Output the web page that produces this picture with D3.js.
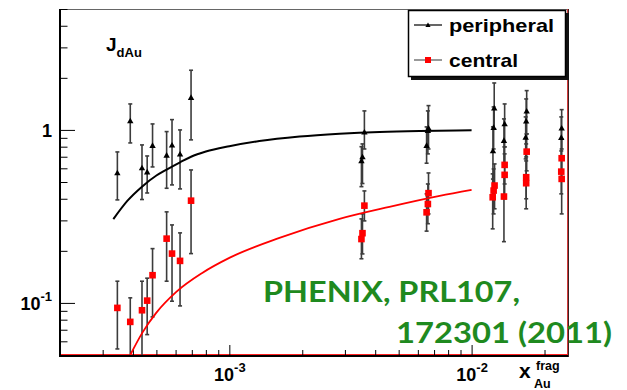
<!DOCTYPE html>
<html>
<head>
<meta charset="utf-8">
<script src="https://cdn.jsdelivr.net/npm/d3@7"></script>
<style>
  html, body { margin: 0; padding: 0; background: #fff; }
  svg { display: block; }
  text { font-family: "Liberation Sans", Arial, Helvetica, sans-serif; font-weight: bold; }
  text.cite { font-family: Lato, "Open Sans", sans-serif; font-weight: 700; }
</style>
</head>
<body>
<svg id="chart" width="627" height="390"></svg>
<script>
// ---- peripheral collisions: x_Au^frag, J_dAu and error-bar ends ----
const periX  = [3.45e-4, 3.90e-4, 4.36e-4, 4.58e-4, 4.82e-4, 5.51e-4, 5.80e-4, 6.26e-4, 6.95e-4,
                3.61e-3, 3.545e-3, 3.51e-3,
                6.64e-3, 6.60e-3, 6.52e-3,
                1.240e-2, 1.233e-2, 1.225e-2,
                1.369e-2, 1.360e-2,
                1.688e-2, 1.680e-2, 1.672e-2,
                2.354e-2, 2.345e-2];
const periY  = [0.564, 1.127, 0.603, 0.570, 0.811, 0.714, 0.816, 0.724, 1.537,
                0.970, 0.698, 0.662,
                1.023, 0.991, 0.811,
                1.335, 1.031, 0.756,
                1.083, 0.867,
                1.283, 1.123, 0.907,
                1.023, 0.903];
const periHi = [0.746, 1.413, 0.819, 0.707, 1.083, 0.978, 1.147, 1.000, 2.213,
                1.288, 0.830, 0.800,
                1.382, 1.288, 1.041,
                1.868, 1.358, 1.041,
                1.413, 1.158,
                1.687, 1.510, 1.189,
                1.310, 1.189];
const periLo = [0.394, 0.841, 0.396, 0.432, 0.611, 0.460, 0.481, 0.456, 0.876,
                0.776, 0.490, 0.470,
                0.776, 0.727, 0.642,
                1.013, 0.776, 0.520,
                0.798, 0.636,
                0.948, 0.830, 0.680,
                0.776, 0.680];

// ---- central collisions ----
const centX  = [3.45e-4, 3.90e-4, 4.36e-4, 4.58e-4, 4.82e-4, 5.51e-4, 5.80e-4, 6.26e-4, 6.95e-4,
                3.61e-3, 3.545e-3, 3.51e-3,
                6.64e-3, 6.60e-3, 6.52e-3,
                1.244e-2, 1.233e-2, 1.222e-2,
                1.369e-2, 1.369e-2, 1.360e-2,
                1.688e-2, 1.680e-2, 1.680e-2,
                2.354e-2, 2.345e-2, 2.354e-2];
const centY  = [0.0936, 0.0777, 0.0907, 0.1031, 0.1446, 0.2353, 0.1928, 0.175, 0.390,
                0.365, 0.253, 0.234,
                0.431, 0.373, 0.334,
                0.477, 0.446, 0.408,
                0.628, 0.550, 0.412,
                0.749, 0.533, 0.492,
                0.686, 0.574, 0.521];
const centHi = [0.1335, 0.107, 0.1335, 0.139, 0.206, 0.336, 0.2824, 0.254, 0.587,
                0.444, 0.327, 0.306,
                0.564, 0.487, 0.427,
                0.636, 0.595, 0.557,
                0.798, 0.727, 0.557,
                0.948, 0.698, 0.662,
                0.887, 0.756, 0.680];
const centLo = [0.0542, 0.045, 0.040, 0.0656, 0.083, 0.1335, 0.1023, 0.0961, 0.1928,
                0.298, 0.192, 0.180,
                0.327, 0.287, 0.260,
                0.350, 0.327, 0.268,
                0.487, 0.400, 0.226,
                0.580, 0.400, 0.350,
                0.520, 0.427, 0.327];

// ---- model curves ----
const fitPeriX = [3.32e-4, 3.8e-4, 4.36e-4, 5.0e-4, 5.51e-4, 6.26e-4, 6.95e-4, 8.0e-4, 1.0e-3,
                  1.33e-3, 1.95e-3, 2.85e-3, 4.17e-3, 6.10e-3, 1.0e-2];
const fitPeriY = [0.305, 0.39, 0.47, 0.545, 0.59, 0.65, 0.70, 0.75, 0.805,
                  0.862, 0.915, 0.95, 0.974, 0.987, 0.994];
const fitCentX = [3.90e-4, 4.37e-4, 4.99e-4, 6.04e-4, 7.73e-4, 1.0e-3, 1.61e-3, 2.85e-3, 4.58e-3, 7.38e-3, 1.0e-2];
const fitCentY = [0.050, 0.0671, 0.0876, 0.1158, 0.149, 0.182, 0.2375, 0.306, 0.359, 0.4155, 0.450];

// ---- axis ticks and labels ----
const xMajorTicks = [1e-3, 1e-2];
const xMajorExps  = ["-3", "-2"];
const xMinorTicks = [3e-4, 4e-4, 5e-4, 6e-4, 7e-4, 8e-4, 9e-4,
                     2e-3, 3e-3, 4e-3, 5e-3, 6e-3, 7e-3, 8e-3, 9e-3, 2e-2];
const yMajorTicks = [0.1, 1];
const yMinorTicks = [0.06, 0.07, 0.08, 0.09, 0.2, 0.3, 0.4, 0.5, 0.6, 0.7, 0.8, 0.9, 2, 3, 4, 5];
const seriesNames = ["peripheral", "central"];
const citeLines   = ["PHENIX, PRL107,", "172301 (2011)"];

const frame = { left: 60, right: 568, top: 9, bottom: 355 };
const svg = d3.select("#chart");

const x = d3.scaleLog().domain([2e-4, 0.025]).range([frame.left, frame.right]);
const y = d3.scaleLog().domain([0.05, 5]).range([frame.bottom, frame.top]);

svg.append("defs").append("clipPath").attr("id", "plotClip")
  .append("rect")
  .attr("x", frame.left).attr("y", frame.top)
  .attr("width", frame.right - frame.left).attr("height", frame.bottom - frame.top);

// frame edges
svg.append("line").attr("x1", frame.left).attr("x2", frame.right)
  .attr("y1", frame.top + 0.5).attr("y2", frame.top + 0.5)
  .attr("stroke", "#666").attr("stroke-width", 1);
svg.append("line").attr("x1", frame.right - 0.5).attr("x2", frame.right - 0.5)
  .attr("y1", frame.top).attr("y2", frame.bottom + 2)
  .attr("stroke", "#d23c3c").attr("stroke-width", 1);
svg.append("line").attr("x1", frame.right + 0.5).attr("x2", frame.right + 0.5)
  .attr("y1", frame.top).attr("y2", frame.bottom + 2)
  .attr("stroke", "#3a2020").attr("stroke-width", 1);
svg.append("line").attr("x1", frame.left + 1).attr("x2", frame.right)
  .attr("y1", frame.bottom - 0.5).attr("y2", frame.bottom - 0.5)
  .attr("stroke", "#ff2020").attr("stroke-width", 1);

// axes: ticks point into the frame
function drawTicks(axis, values, len) {
  return axis.tickValues(values).tickSizeInner(-len).tickSizeOuter(0).tickFormat("");
}
const gxMinor = svg.append("g").attr("transform", `translate(0,${frame.bottom})`)
  .call(drawTicks(d3.axisBottom(x), xMinorTicks, 5));
const gxMajor = svg.append("g").attr("transform", `translate(0,${frame.bottom})`)
  .call(drawTicks(d3.axisBottom(x), xMajorTicks, 10));
const gyMinor = svg.append("g").attr("transform", `translate(${frame.left},0)`)
  .call(drawTicks(d3.axisLeft(y), yMinorTicks, 7.5));
const gyMajor = svg.append("g").attr("transform", `translate(${frame.left},0)`)
  .call(drawTicks(d3.axisLeft(y), yMajorTicks, 15));
[gxMinor, gxMajor, gyMinor, gyMajor].forEach(g => {
  g.select(".domain").remove();
  g.selectAll(".tick line").attr("stroke", "#000").attr("stroke-width", 1);
});

// axis lines
svg.append("line").attr("x1", frame.left - 1).attr("x2", frame.right)
  .attr("y1", frame.bottom + 1).attr("y2", frame.bottom + 1)
  .attr("stroke", "#000").attr("stroke-width", 2);
svg.append("line").attr("x1", frame.left).attr("x2", frame.left)
  .attr("y1", frame.top).attr("y2", frame.bottom + 2)
  .attr("stroke", "#000").attr("stroke-width", 2);

// x tick labels 10^n
gxMajor.selectAll(".tick").each(function(d, i) {
  const t = d3.select(this).append("text")
    .attr("y", 26).attr("text-anchor", "middle")
    .attr("fill", "#000").attr("font-size", 18);
  t.append("tspan").text("10");
  t.append("tspan").attr("dy", -9).attr("font-size", 13).text(xMajorExps[i]);
});
// y tick labels
gyMajor.selectAll(".tick").each(function(d) {
  const t = d3.select(this).append("text")
    .attr("x", -8).attr("y", 7).attr("text-anchor", "end")
    .attr("fill", "#000").attr("font-size", 18);
  if (d === 1) {
    t.text("1");
  } else {
    const e = Math.round(Math.log10(d));
    t.append("tspan").text("10");
    t.append("tspan").attr("dy", -9).attr("font-size", 13).text(String(e));
  }
});

// axis titles
const yt = svg.append("text").attr("x", 106).attr("y", 51).attr("font-size", 19).attr("fill", "#000");
yt.append("tspan").text("J");
yt.append("tspan").attr("dy", 6).attr("font-size", 13).text("dAu");

svg.append("text").attr("x", 519).attr("y", 378).attr("font-size", 21).attr("fill", "#000").text("x");
svg.append("text").attr("x", 536).attr("y", 370).attr("font-size", 12.5).attr("fill", "#000").text("frag");
svg.append("text").attr("x", 534).attr("y", 387.5).attr("font-size", 12.5).attr("fill", "#000").text("Au");

// data layer
const plot = svg.append("g").attr("clip-path", "url(#plotClip)");

const peri = periX.map((v, i) => ({ x: v, y: periY[i], lo: periLo[i], hi: periHi[i] }));
const cent = centX.map((v, i) => ({ x: v, y: centY[i], lo: centLo[i], hi: centHi[i] }));

function errorBars(data) {
  const g = plot.append("g").attr("stroke", "#3c3c3c").attr("stroke-width", 1.6);
  g.selectAll("line.v").data(data).join("line").attr("class", "v")
    .attr("x1", d => x(d.x)).attr("x2", d => x(d.x))
    .attr("y1", d => y(d.hi)).attr("y2", d => y(d.lo));
  g.selectAll("line.c1").data(data).join("line").attr("class", "c1")
    .attr("x1", d => x(d.x) - 2).attr("x2", d => x(d.x) + 2)
    .attr("y1", d => y(d.hi)).attr("y2", d => y(d.hi));
  g.selectAll("line.c2").data(data).join("line").attr("class", "c2")
    .attr("x1", d => x(d.x) - 2).attr("x2", d => x(d.x) + 2)
    .attr("y1", d => y(d.lo)).attr("y2", d => y(d.lo));
}
errorBars(peri);
errorBars(cent);

// model curves
const line = d3.line().x(d => x(d[0])).y(d => y(d[1])).curve(d3.curveMonotoneX);
plot.append("path").datum(fitPeriX.map((v, i) => [v, fitPeriY[i]]))
  .attr("d", line).attr("fill", "none").attr("stroke", "#000").attr("stroke-width", 2);
plot.append("path").datum(fitCentX.map((v, i) => [v, fitCentY[i]]))
  .attr("d", line).attr("fill", "none").attr("stroke", "#f00").attr("stroke-width", 1.8);

// markers
const tri = "M0,-3.3 L3.2,2.4 L-3.2,2.4 Z";
plot.append("g").selectAll("path").data(peri).join("path")
  .attr("d", tri).attr("fill", "#000")
  .attr("transform", d => `translate(${x(d.x)},${y(d.y)})`);
const sq = 6.6;
plot.append("g").selectAll("rect").data(cent).join("rect")
  .attr("x", d => x(d.x) - sq / 2).attr("y", d => y(d.y) - sq / 2)
  .attr("width", sq).attr("height", sq).attr("fill", "#f00");

// legend
const lg = svg.append("g");
lg.append("rect").attr("x", 411).attr("y", 13).attr("width", 158).attr("height", 67).attr("fill", "#111");
lg.append("rect").attr("x", 408.5).attr("y", 10.5).attr("width", 157).attr("height", 66)
  .attr("fill", "#fff").attr("stroke", "#000").attr("stroke-width", 1.5);
lg.append("line").attr("x1", 414).attr("x2", 442).attr("y1", 25).attr("y2", 25).attr("stroke", "#000").attr("stroke-width", 1.2);
lg.append("path").attr("d", "M0,-2.6 L2.6,2 L-2.6,2 Z").attr("fill", "#000").attr("transform", "translate(428,25)");
lg.append("line").attr("x1", 414).attr("x2", 442).attr("y1", 60).attr("y2", 60).attr("stroke", "#555").attr("stroke-width", 1.2);
lg.append("rect").attr("x", 425).attr("y", 57).attr("width", 6).attr("height", 6).attr("fill", "#f00");
lg.append("text").attr("x", 449).attr("y", 31.5).attr("font-size", 19).attr("fill", "#000")
  .attr("textLength", 105).attr("lengthAdjust", "spacingAndGlyphs").text(seriesNames[0]);
lg.append("text").attr("x", 449).attr("y", 66.5).attr("font-size", 19).attr("fill", "#000")
  .attr("textLength", 69).attr("lengthAdjust", "spacingAndGlyphs").text(seriesNames[1]);

// citation
const green = "#1f8a1f";
svg.append("text").attr("class", "cite").attr("x", 263).attr("y", 302)
  .attr("font-size", 29).attr("fill", green)
  .attr("textLength", 257).attr("lengthAdjust", "spacingAndGlyphs").text(citeLines[0]);
svg.append("text").attr("class", "cite").attr("x", 396).attr("y", 343)
  .attr("font-size", 29).attr("fill", green)
  .attr("textLength", 216).attr("lengthAdjust", "spacingAndGlyphs").text(citeLines[1]);
</script>
</body>
</html>
